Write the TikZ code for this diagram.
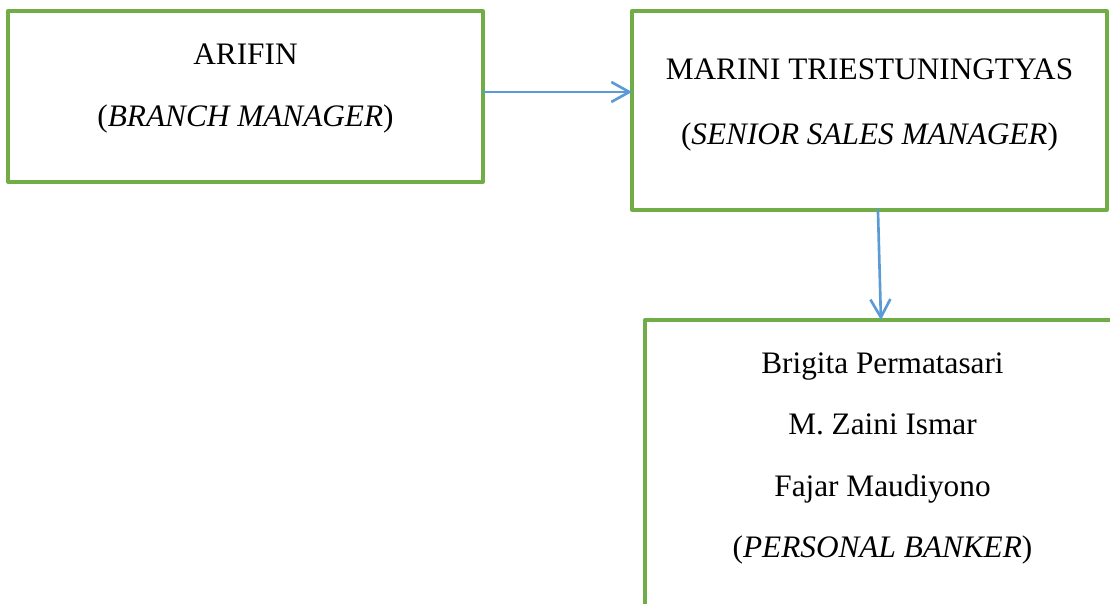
\documentclass[tikz,border=0pt]{standalone}
\usepackage{fontspec}
\setmainfont{Liberation Serif}
\usetikzlibrary{arrows.meta}
\definecolor{boxgreen}{HTML}{70AD47}
\definecolor{arrowblue}{HTML}{5B9BD5}
\tikzset{
	box/.style={draw=boxgreen, line width=1.9pt, rectangle, inner sep=0pt, outer sep=0pt, anchor=north west, minimum width=9.5cm},
	txt/.style={anchor=north, inner sep=0pt, align=center, font=\fontsize{17.8}{35}\selectfont},
	conn/.style={draw=arrowblue, line width=1.5pt, -{Straight Barb[length=0.36cm,width=0.4cm,line width=1.5pt]}}
}
\begin{document}
\begin{tikzpicture}[x=0.02cm, y=-0.02cm, line join=round, line cap=round]
	\useasboundingbox (0,0) rectangle (1110,604);
	% kotak
	\node[box, minimum height=3.42cm] (arifin) at (8,11) {};
	\node[box, minimum height=3.98cm] (marini) at (632,11) {};
	\node[box, minimum height=6.4cm] (banker) at (645,320) {};
	\node[txt] (arifintxt) at (245.5,44) {ARIFIN\\(\textit{BRANCH MANAGER})};
	\node[txt, font=\fontsize{17.8}{37}\selectfont] (marinitxt) at (869.5,58) {MARINI TRIESTUNINGTYAS\\(\textit{SENIOR SALES MANAGER})};
	\node[txt] (bankertxt) at (882.5,352) {Brigita Permatasari\\M. Zaini Ismar\\Fajar Maudiyono\\(\textit{PERSONAL BANKER})};
	\draw[conn] ([yshift=0.09cm]arifin.east) -- ([yshift=0.09cm]arifin.east -| marini.west);
	\draw[conn] ([xshift=0.17cm]marini.south) -- ([xshift=-0.03cm]banker.north);
\end{tikzpicture}
\end{document}
